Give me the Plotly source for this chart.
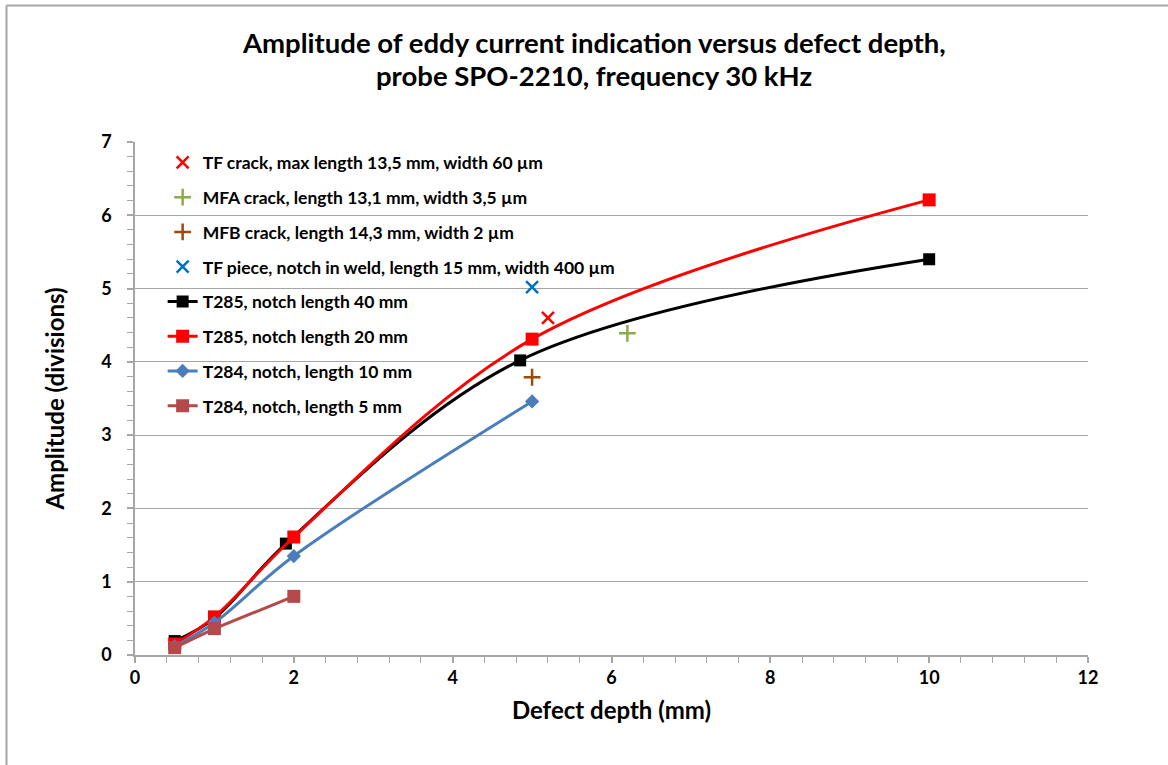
import plotly.graph_objects as go

# ---- data ----
tf_crack_x = [5.2]
tf_crack_y = [4.6]
mfa_x = [6.2]
mfa_y = [4.39]
mfb_x = [5.0]
mfb_y = [3.79]
tf_piece_x = [5.0]
tf_piece_y = [5.02]

t285_40_x = [0.5, 1.0, 1.9, 4.85, 10.0]
t285_40_y = [0.19, 0.5, 1.52, 4.02, 5.4]
t285_20_x = [0.5, 1.0, 2.0, 5.0, 10.0]
t285_20_y = [0.15, 0.52, 1.61, 4.31, 6.21]
t284_10_x = [0.5, 1.0, 2.0, 5.0]
t284_10_y = [0.12, 0.44, 1.35, 3.46]
t284_5_x = [0.5, 1.0, 2.0]
t284_5_y = [0.1, 0.36, 0.8]

x_ticks = [0, 2, 4, 6, 8, 10, 12]
y_ticks = [0, 1, 2, 3, 4, 5, 6, 7]

title_lines = ["Amplitude of eddy current indication versus defect depth,",
               "probe SPO-2210, frequency 30 kHz"]

FONT = "Lato"

fig = go.Figure()

def scatter_only(x, y, name, symbol, color, size, g):
    fig.add_trace(go.Scatter(
        x=x, y=y, mode="markers", name=f"<b>{name}</b>", legendgroup=g,
        marker=dict(symbol=symbol, size=size, color=color,
                    line=dict(color=color, width=2.5)),
    ))

scatter_only(tf_crack_x, tf_crack_y, "TF crack, max length 13,5 mm, width 60 µm", "x-thin", "#FF0000", 12, "a")
scatter_only(mfa_x, mfa_y, "MFA crack, length 13,1 mm, width 3,5 µm", "cross-thin", "#8EAA48", 12, "b")
scatter_only(mfb_x, mfb_y, "MFB crack, length 14,3 mm, width 2 µm", "cross-thin", "#9C4A0C", 12, "c")
scatter_only(tf_piece_x, tf_piece_y, "TF piece, notch in weld, length 15 mm, width 400 µm", "x-thin", "#0070C0", 12, "d")

def line_series(x, y, name, color, symbol, size, shape, g):
    fig.add_trace(go.Scatter(
        x=x, y=y, mode="lines+markers", name=f"<b>{name}</b>", legendgroup=g,
        line=dict(color=color, width=3, shape=shape, smoothing=1.0),
        marker=dict(symbol=symbol, size=size, color=color),
    ))

line_series(t285_40_x, t285_40_y, "T285, notch length 40 mm", "#000000", "square", 12, "spline", "e")
line_series(t285_20_x, t285_20_y, "T285, notch length 20 mm", "#FF0000", "square", 13, "spline", "f")
line_series(t284_10_x, t284_10_y, "T284, notch, length 10 mm", "#4A7EBB", "diamond", 11, "spline", "g")
line_series(t284_5_x, t284_5_y, "T284, notch, length 5 mm", "#B5484A", "square", 13, "linear", "h")

title_ann = [
    dict(
        text=f"<b>{line}</b>",
        xref="paper", yref="paper", x=(594 - 135) / 953, y=(655 - cy) / 513,
        xanchor="center", yanchor="middle", showarrow=False,
        font=dict(family=FONT, size=27.5, color="#000000"),
    )
    for line, cy in zip(title_lines, [42, 75])
]

fig.update_layout(
    width=1168, height=765,
    margin=dict(l=135, r=80, t=142, b=110),
    paper_bgcolor="white", plot_bgcolor="white",
    font=dict(family=FONT, color="#000000"),
    showlegend=True,
    legend=dict(
        x=0.029, y=0.995, xanchor="left", yanchor="top",
        bgcolor="rgba(0,0,0,0)", borderwidth=0,
        font=dict(family=FONT, size=17.5, color="#000000"),
        traceorder="grouped", tracegroupgap=9,
        itemwidth=30,
    ),
    xaxis=dict(
        range=[0, 12], tickvals=x_ticks, ticktext=[f"<b>{v}</b>" for v in x_ticks],
        showgrid=False, zeroline=False,
        showline=True, linecolor="#A6A6A6", linewidth=1.5,
        ticks="outside", ticklen=6, tickcolor="#A6A6A6", tickwidth=1.5,
        minor=dict(dtick=0.4, ticks="outside", ticklen=6, tickcolor="#A6A6A6", tickwidth=1, showgrid=False),
        tickfont=dict(family=FONT, size=18, color="#000000"),
        title=dict(text="<b>Defect depth (mm)</b>", font=dict(family=FONT, size=24, color="#000000"), standoff=15),
    ),
    yaxis=dict(
        range=[0, 7], tickvals=y_ticks, ticktext=[f"<b>{v}</b>" for v in y_ticks],
        showgrid=True, gridcolor="#A6A6A6", gridwidth=1.2,
        zeroline=False,
        showline=True, linecolor="#A6A6A6", linewidth=1.5,
        ticks="outside", ticklen=6, tickcolor="#A6A6A6", tickwidth=1.5,
        minor=dict(dtick=0.2, ticks="outside", ticklen=6, tickcolor="#A6A6A6", tickwidth=1, showgrid=False),
        tickfont=dict(family=FONT, size=18, color="#000000"),
        ticklabelstandoff=12,
        title=dict(text="<b>Amplitude (divisions)</b>", font=dict(family=FONT, size=24, color="#000000"), standoff=30),
    ),
    annotations=title_ann,
    shapes=[
        dict(type="line", xref="paper", yref="paper",
             x0=(6.5 - 135) / 953, x1=(6.5 - 135) / 953,
             y0=(655 - 5.5) / 513, y1=(655 - 770) / 513,
             line=dict(color="#A6A6A6", width=2)),
        dict(type="line", xref="paper", yref="paper",
             x0=(6.5 - 135) / 953, x1=(1170 - 135) / 953,
             y0=(655 - 5.5) / 513, y1=(655 - 5.5) / 513,
             line=dict(color="#A6A6A6", width=2)),
    ],
)

fig.write_html("out.html")
